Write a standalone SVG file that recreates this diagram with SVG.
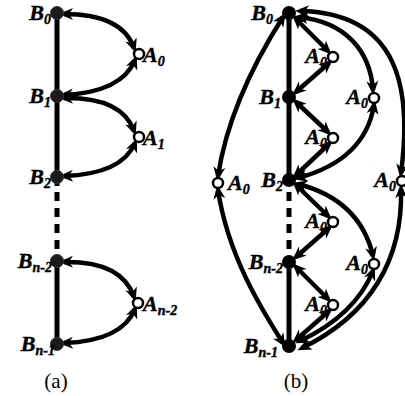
<svg xmlns="http://www.w3.org/2000/svg" width="405" height="396" viewBox="0 0 405 396">
<defs>
<marker id="ah" markerUnits="userSpaceOnUse" markerWidth="20" markerHeight="20" refX="0" refY="0" orient="auto-start-reverse" overflow="visible">
<path d="M5,0 L-9,-6 L-5,0 L-9,6 Z" fill="#000"/>
</marker>
</defs>
<style>
.bg{fill:#fff}
.spine{stroke:#000;stroke-width:5;fill:none}
.dash{stroke:#000;stroke-width:5;fill:none;stroke-dasharray:9 7}
.c{stroke:#000;stroke-width:4.5;fill:none;marker-start:url(#ah);marker-end:url(#ah)}
.bn{fill:#1a1a1a;stroke:#333;stroke-width:1}
.bnb{fill:#000}
.an{fill:#fff;stroke:#000;stroke-width:2.5}
.lbl{font-family:"Liberation Serif","Times New Roman",serif;font-weight:bold;font-style:italic;font-size:22px;fill:#000;stroke:#000;stroke-width:0.4}
.sub{font-size:14px}
.cap{font-family:"Liberation Serif","Times New Roman",serif;font-size:21px;fill:#000;text-anchor:middle}
.e{text-anchor:end}
</style>
<rect class="bg" x="0" y="0" width="405" height="396"/>

<g id="spines">
<line class="spine" x1="57" y1="13" x2="57" y2="186"/>
<line class="dash" x1="57" y1="192" x2="57" y2="252"/>
<line class="spine" x1="57" y1="258" x2="57" y2="344"/>
<line class="spine" x1="289" y1="13" x2="289" y2="186"/>
<line class="dash" x1="289" y1="192" x2="289" y2="252"/>
<line class="spine" x1="289" y1="258" x2="289" y2="346"/>
</g>

<g id="connectors">
<path class="c" d="M64,14 Q122,14 134,48"/>
<path class="c" d="M135,60 Q122,92 64,95"/>
<path class="c" d="M64,98 Q122,97 134,131"/>
<path class="c" d="M135,143 Q122,174 64,176"/>
<path class="c" d="M64,262 Q122,261 134,297"/>
<path class="c" d="M135,309 Q122,341 64,343"/>
<path class="c" d="M296,19 L328,51"/>
<path class="c" d="M329,63 L296,92"/>
<path class="c" d="M296,102 L328,132"/>
<path class="c" d="M329,144 L296,175"/>
<path class="c" d="M296,185 L328,216"/>
<path class="c" d="M329,228 L296,257"/>
<path class="c" d="M296,267 L328,299"/>
<path class="c" d="M329,311 L296,340"/>
<path class="c" d="M299,17 C345,22 370,50 373,90"/>
<path class="c" d="M374,105 Q365,160 298,178"/>
<path class="c" d="M298,184 Q360,200 373,256"/>
<path class="c" d="M373,271 Q355,315 300,341"/>
<path class="c" d="M300,11 C400,13 412,90 401,173"/>
<path class="c" d="M401,189 C403,260 370,315 302,348"/>
<path class="c" d="M283,17 C262,50 228,110 218,176"/>
<path class="c" d="M218,190 C228,256 262,310 283,343"/>
</g>

<g id="B0a"><circle class="bn" cx="57" cy="13" r="6.5"/><text class="lbl e" x="51" y="20">B<tspan class="sub" dy="4">0</tspan></text></g>
<g id="B1a"><circle class="bn" cx="57" cy="96" r="6.5"/><text class="lbl e" x="51" y="103">B<tspan class="sub" dy="4">1</tspan></text></g>
<g id="B2a"><circle class="bn" cx="57" cy="177" r="6.5"/><text class="lbl e" x="51" y="184">B<tspan class="sub" dy="4">2</tspan></text></g>
<g id="Bn2a"><circle class="bn" cx="57" cy="261" r="6.5"/><text class="lbl e" x="52" y="268">B<tspan class="sub" dy="4">n-2</tspan></text></g>
<g id="Bn1a"><circle class="bn" cx="57" cy="344" r="6.5"/><text class="lbl e" x="55" y="351">B<tspan class="sub" dy="4">n-1</tspan></text></g>
<g id="A0a"><circle class="an" cx="139" cy="54" r="5"/><text class="lbl" x="143" y="62">A<tspan class="sub" dy="4">0</tspan></text></g>
<g id="A1a"><circle class="an" cx="139" cy="137" r="5"/><text class="lbl" x="143" y="145">A<tspan class="sub" dy="4">1</tspan></text></g>
<g id="An2a"><circle class="an" cx="138" cy="303" r="5"/><text class="lbl" x="143" y="311">A<tspan class="sub" dy="4">n-2</tspan></text></g>

<g id="B0b"><circle class="bnb" cx="289" cy="13" r="7"/><text class="lbl e" x="273" y="20">B<tspan class="sub" dy="4">0</tspan></text></g>
<g id="B1b"><circle class="bnb" cx="289" cy="97" r="7"/><text class="lbl e" x="281" y="104">B<tspan class="sub" dy="4">1</tspan></text></g>
<g id="B2b"><circle class="bnb" cx="289" cy="180" r="7"/><text class="lbl e" x="283" y="187">B<tspan class="sub" dy="4">2</tspan></text></g>
<g id="Bn2b"><circle class="bnb" cx="289" cy="262" r="7"/><text class="lbl e" x="283" y="269">B<tspan class="sub" dy="4">n-2</tspan></text></g>
<g id="Bn1b"><circle class="bnb" cx="289" cy="346" r="7"/><text class="lbl e" x="278" y="353">B<tspan class="sub" dy="4">n-1</tspan></text></g>

<g id="A0b1"><circle class="an" cx="333" cy="57" r="5"/><text class="lbl e" x="327" y="63">A<tspan class="sub" dy="4">0</tspan></text></g>
<g id="A0b2"><circle class="an" cx="374" cy="98" r="5"/><text class="lbl e" x="368" y="104">A<tspan class="sub" dy="4">0</tspan></text></g>
<g id="A0b3"><circle class="an" cx="333" cy="138" r="5"/><text class="lbl e" x="327" y="144">A<tspan class="sub" dy="4">0</tspan></text></g>
<g id="A0b4"><circle class="an" cx="402" cy="181" r="5"/><text class="lbl e" x="396" y="187">A<tspan class="sub" dy="4">0</tspan></text></g>
<g id="A0b5"><circle class="an" cx="218" cy="183" r="5"/><text class="lbl" x="228" y="190">A<tspan class="sub" dy="4">0</tspan></text></g>
<g id="A0b6"><circle class="an" cx="333" cy="222" r="5"/><text class="lbl e" x="327" y="228">A<tspan class="sub" dy="4">0</tspan></text></g>
<g id="A0b7"><circle class="an" cx="374" cy="264" r="5"/><text class="lbl e" x="368" y="270">A<tspan class="sub" dy="4">0</tspan></text></g>
<g id="A0b8"><circle class="an" cx="333" cy="305" r="5"/><text class="lbl e" x="327" y="311">A<tspan class="sub" dy="4">0</tspan></text></g>

<text class="cap" x="56" y="388">(a)</text>
<text class="cap" x="296" y="388">(b)</text>
</svg>
